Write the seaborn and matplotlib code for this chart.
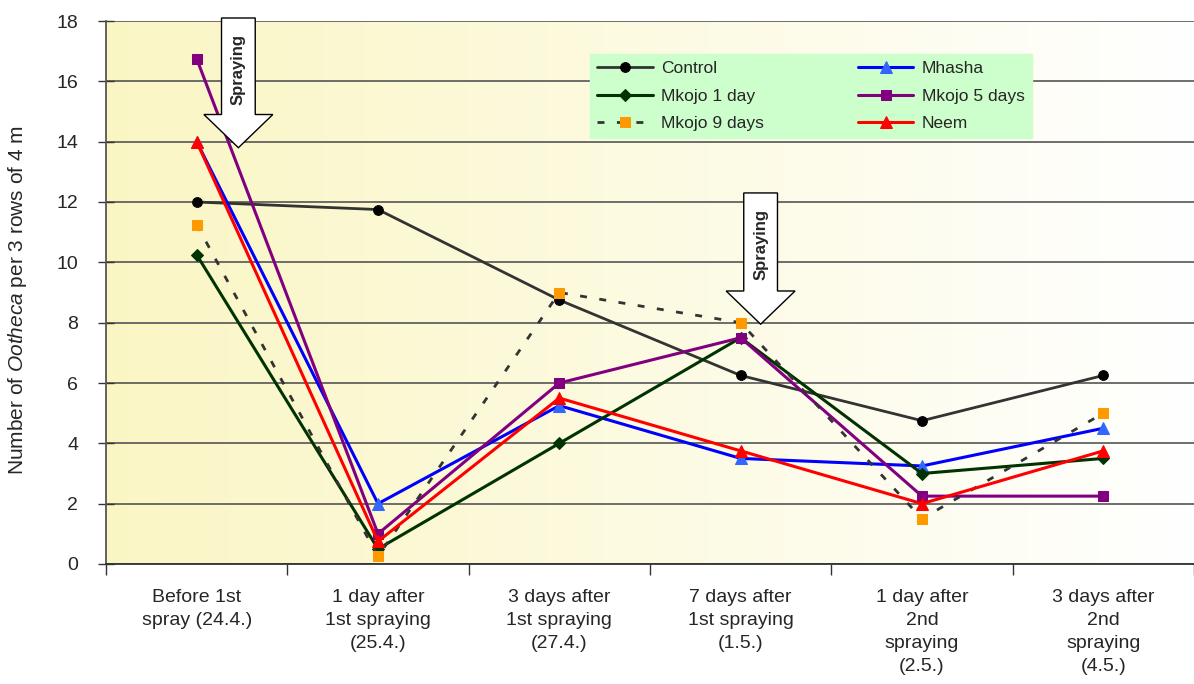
import numpy as np
import pandas as pd
import matplotlib
matplotlib.use("Agg")
import matplotlib.pyplot as plt
from matplotlib.patches import Polygon
import seaborn as sns

# Sampling dates (x categories)
dates = [
    "Before 1st\nspray (24.4.)",
    "1 day after\n1st spraying\n(25.4.)",
    "3 days after\n1st spraying\n(27.4.)",
    "7 days after\n1st spraying\n(1.5.)",
    "1 day after\n2nd\nspraying\n(2.5.)",
    "3 days after\n2nd\nspraying\n(4.5.)",
]

# Mean number of Ootheca per 3 rows of 4 m for each treatment
control = [12.0, 11.75, 8.75, 6.25, 4.75, 6.25]
mhasha = [14.0, 2.0, 5.25, 3.5, 3.25, 4.5]
mkojo_1 = [10.25, 0.5, 4.0, 7.5, 3.0, 3.5]
mkojo_5 = [16.75, 1.0, 6.0, 7.5, 2.25, 2.25]
mkojo_9 = [11.25, 0.25, 9.0, 8.0, 1.5, 5.0]
neem = [14.0, 0.75, 5.5, 3.75, 2.0, 3.75]

y_ticks = [0, 2, 4, 6, 8, 10, 12, 14, 16, 18]

sns.set_theme(style="white")
plt.rcParams["font.family"] = ["Liberation Sans", "DejaVu Sans"]
plt.rcParams["mathtext.fontset"] = "custom"
plt.rcParams["mathtext.it"] = "Liberation Sans:italic"
plt.rcParams["mathtext.rm"] = "Liberation Sans"

W, H = 1194, 684
fig = plt.figure(figsize=(W / 100, H / 100), dpi=100)
fig.patch.set_facecolor("white")
ax = fig.add_axes([106 / W, (H - 564) / H, 1088 / W, 543 / H])

# Yellow-to-white plot-area gradient
grad = np.linspace(0, 1, 256)
c0 = np.array([250, 246, 196]) / 255.0
c1 = np.array([255, 255, 255]) / 255.0
img = (c0[None, :] * (1 - grad[:, None]) + c1[None, :] * grad[:, None])[None, :, :]
ax.imshow(img, extent=[0, 1, 0, 1], transform=ax.transAxes, aspect="auto", zorder=0)
ax.set_facecolor("none")

x = np.arange(len(dates))
series = [
    ("Control", control, dict(color="#333333", marker="o", markersize=7,
                              markerfacecolor="black", markeredgecolor="black", linewidth=2.0)),
    ("Mhasha", mhasha, dict(color="#0000FF", marker="^", markersize=8,
                            markerfacecolor="#3366FF", markeredgecolor="#3366FF", linewidth=2.2)),
    ("Mkojo 1 day", mkojo_1, dict(color="#003300", marker="D", markersize=6,
                                  markerfacecolor="#003300", markeredgecolor="#003300", linewidth=2.2)),
    ("Mkojo 5 days", mkojo_5, dict(color="#800080", marker="s", markersize=7,
                                   markerfacecolor="#800080", markeredgecolor="#800080", linewidth=2.2)),
    ("Mkojo 9 days", mkojo_9, dict(color="#333333", marker="s", markersize=7,
                                   markerfacecolor="#FF9900", markeredgecolor="#FF9900",
                                   linewidth=2.0, linestyle=(0, (2.5, 4.5)))),
    ("Neem", neem, dict(color="#FF0000", marker="^", markersize=8,
                        markerfacecolor="#FF0000", markeredgecolor="#FF0000", linewidth=2.2)),
]

handles = {}
for name, vals, style in series:
    df = pd.DataFrame({"x": x, "y": vals})
    sns.lineplot(data=df, x="x", y="y", ax=ax, label=name, zorder=3, clip_on=False, **style)
    handles[name] = ax.get_lines()[-1]

ax.set_xlim(-0.5, 5.465)
ax.set_ylim(0, 18)
ax.set_yticks(y_ticks)
ax.set_yticklabels([str(v) for v in y_ticks], fontsize=14)
ax.set_xticks(x)
ax.set_xticklabels(dates, fontsize=14, linespacing=1.45)
ax.set_xticks(np.arange(-0.5, 5.6, 1.0), minor=True)
ax.tick_params(axis="x", which="major", length=0, pad=18)
ax.tick_params(axis="x", which="minor", length=8, width=1, color="#333333", direction="out", bottom=True)
ax.tick_params(axis="y", which="major", length=12, width=1, color="#333333", direction="inout", left=True, pad=14)

ax.yaxis.grid(True, color="#555555", linewidth=1.2)
ax.xaxis.grid(False)
ax.set_axisbelow(True)
for side in ["top", "right"]:
    ax.spines[side].set_visible(False)
ax.spines["left"].set_color("#555555")
ax.spines["left"].set_linewidth(1.3)
ax.spines["bottom"].set_color("#333333")
ax.spines["bottom"].set_linewidth(1.3)

ax.set_xlabel("")
ax.set_ylabel(r"Number of $\it{Ootheca}$ per 3 rows of 4 m", fontsize=15)
ax.yaxis.set_label_coords(-0.071, 0.486)

# Legend, filled row by row
order = ["Control", "Mkojo 1 day", "Mkojo 9 days", "Mhasha", "Mkojo 5 days", "Neem"]
leg = ax.legend([handles[n] for n in order], order, ncol=2, loc="lower left",
                bbox_to_anchor=(0.445, 0.7845, 0.406, 0.162), mode="expand",
                borderaxespad=0, frameon=True, fancybox=False, fontsize=12.5,
                handlelength=3.2, labelspacing=0.7, columnspacing=1.0, handletextpad=0.5)
leg.get_frame().set_facecolor("#CCFFCC")
leg.get_frame().set_edgecolor("#CCFFCC")
leg.get_frame().set_alpha(1)
leg.set_zorder(5)


def spray_arrow(xc, y_top, y_tip, shaft_w=0.186, head_w=0.38, head_len=1.1):
    pts = [
        (xc - shaft_w / 2, y_top), (xc + shaft_w / 2, y_top),
        (xc + shaft_w / 2, y_tip + head_len), (xc + head_w / 2, y_tip + head_len),
        (xc, y_tip), (xc - head_w / 2, y_tip + head_len),
        (xc - shaft_w / 2, y_tip + head_len),
    ]
    ax.add_patch(Polygon(pts, closed=True, facecolor="white", edgecolor="black",
                         linewidth=1.0, zorder=6, clip_on=False))
    ax.text(xc, (y_top + y_tip + head_len) / 2 - 0.1, "Spraying", rotation=90,
            ha="center", va="center", fontsize=12, fontweight="bold", zorder=7)


spray_arrow(0.23, 18.1, 13.8)
spray_arrow(3.11, 12.3, 7.95)

fig.savefig("out.png", dpi=100)
